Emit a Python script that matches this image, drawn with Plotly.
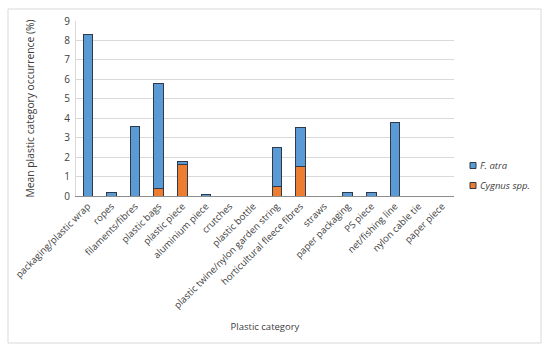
import plotly.graph_objects as go

categories = ["packaging/plastic wrap", "ropes", "filaments/fibres", "plastic bags",
              "plastic piece", "aluminium piece", "crutches", "plastic bottle",
              "plastic twine/nylon garden string", "horticultural fleece fibres", "straws",
              "paper packaging", "PS piece", "net/fishing line", "nylon cable tie", "paper piece"]
cygnus = [0, 0, 0, 0.4, 1.6, 0, 0, 0, 0.5, 1.5, 0, 0, 0, 0, 0, 0]
f_atra = [8.3, 0.2, 3.6, 5.4, 0.2, 0.1, 0, 0, 2.0, 2.0, 0, 0.2, 0.2, 3.8, 0, 0]
y_ticks = [0, 1, 2, 3, 4, 5, 6, 7, 8, 9]
legend_names = ["F. atra", "Cygnus spp."]

FONT = "Open Sans"
GREY = "#404040"
OUTLINE = "#2E3A4A"
BLUE = "#5B9BD5"
ORANGE = "#ED7D31"

L, T, PW, PH = 76, 21, 378, 175
W, H = 550, 350

def px(x):
    return (x - L) / PW

def py(y):
    return (T + PH - y) / PH

fig = go.Figure()
fig.add_trace(go.Bar(x=categories, y=cygnus, name=legend_names[1], showlegend=False,
                     marker=dict(color=ORANGE, line=dict(color=OUTLINE, width=1))))
fig.add_trace(go.Bar(x=categories, y=f_atra, name=legend_names[0], showlegend=False,
                     marker=dict(color=BLUE, line=dict(color=OUTLINE, width=1))))

shapes = [dict(type="rect", xref="paper", yref="paper",
               x0=px(8), x1=px(541), y0=py(343), y1=py(9),
               line=dict(color="#D9D9D9", width=1), layer="below")]
annotations = []
# legend keys (chart chrome)
for name, col, yc in [(legend_names[0], BLUE, 165.5), (legend_names[1], ORANGE, 185.5)]:
    shapes.append(dict(type="rect", xref="paper", yref="paper",
                       x0=px(470), x1=px(476), y0=py(yc + 3), y1=py(yc - 3),
                       fillcolor=col, line=dict(color=OUTLINE, width=1)))
    annotations.append(dict(xref="paper", yref="paper", x=px(478), y=py(yc),
                            xanchor="left", yanchor="middle", showarrow=False,
                            text="<i>%s</i>" % name, font=dict(size=9.5, color=GREY)))

fig.update_layout(
    barmode="stack",
    bargap=0.6,
    width=W, height=H,
    margin=dict(l=L, r=W - L - PW, t=T, b=H - T - PH),
    paper_bgcolor="white", plot_bgcolor="white",
    font=dict(family=FONT, size=9, color=GREY),
    showlegend=False,
    xaxis=dict(title=dict(text="Plastic category", font=dict(size=9.5, color=GREY), standoff=13),
               tickangle=-45, tickfont=dict(size=9.5, color=GREY), automargin=False,
               showline=True, linecolor="#8C8C8C", linewidth=1, ticks="", showgrid=False),
    yaxis=dict(title=dict(text="Mean plastic category occurrence (%)", font=dict(size=10.3, color=GREY), standoff=27),
               range=[0, 9], tickvals=y_ticks, tickfont=dict(size=10, color=GREY), automargin=False,
               ticklabelstandoff=3,
               showgrid=True, gridcolor="#D9D9D9", gridwidth=1,
               showline=True, linecolor="#D9D9D9", zeroline=False, ticks=""),
    shapes=shapes,
    annotations=annotations,
)

fig.write_html("out.html", config={"displayModeBar": False},
               post_script="document.body.style.margin='0px';")
